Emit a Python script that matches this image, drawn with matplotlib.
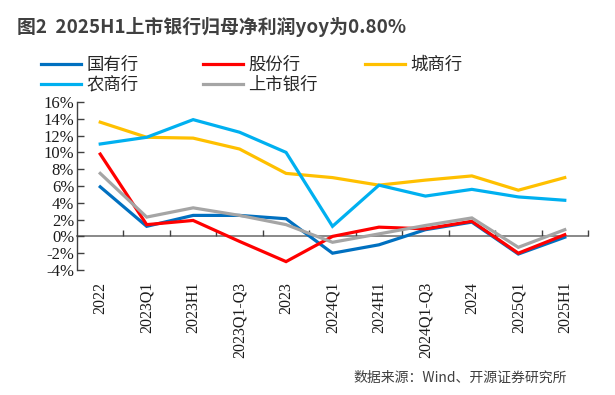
import matplotlib
matplotlib.use("Agg")
import matplotlib.pyplot as plt
from matplotlib.ticker import FixedLocator, FuncFormatter

plt.rcParams['font.family'] = ['Noto Sans CJK SC', 'DejaVu Sans']

periods = ['2022', '2023Q1', '2023H1', '2023Q1-Q3', '2023', '2024Q1',
           '2024H1', '2024Q1-Q3', '2024', '2025Q1', '2025H1']

# 归母净利润同比 (%)
state_owned = [5.9, 1.2, 2.5, 2.5, 2.1, -2.0, -1.0, 0.8, 1.7, -2.1, -0.1]
joint_stock = [9.8, 1.4, 1.9, -0.6, -3.0, 0.0, 1.1, 0.9, 1.8, -2.0, 0.2]
city_comm = [13.6, 11.8, 11.7, 10.4, 7.5, 7.0, 6.1, 6.7, 7.2, 5.5, 7.0]
rural_comm = [11.0, 11.8, 13.9, 12.4, 10.0, 1.2, 6.1, 4.8, 5.6, 4.7, 4.3]
listed_banks = [7.5, 2.3, 3.4, 2.5, 1.4, -0.7, 0.3, 1.3, 2.2, -1.3, 0.8]

series = [
    ('国有行', state_owned, '#0070C0'),
    ('股份行', joint_stock, '#FF0000'),
    ('城商行', city_comm, '#FFC000'),
    ('农商行', rural_comm, '#00B0F0'),
    ('上市银行', listed_banks, '#A5A5A5'),
]

fig = plt.figure(figsize=(6.15, 3.95), dpi=100)
ax = fig.add_axes([77 / 615, 1 - 270 / 395, 511 / 615, 168 / 395])

x = list(range(len(periods)))
lines = {}
for name, vals, color in series:
    lines[name], = ax.plot(x, vals, color=color, lw=2.3, label=name,
                           solid_joinstyle='miter')

ax.set_xlim(-0.5, len(periods) - 0.5)
ax.set_ylim(-4, 16)

# y axis
ax.yaxis.set_major_locator(FixedLocator(range(-4, 17, 2)))
ax.yaxis.set_major_formatter(FuncFormatter(lambda v, p: '{:.0f}%'.format(v)))
ax.tick_params(axis='y', direction='in', length=5, width=1, color='#404040',
               labelsize=12, labelcolor='#1a1a1a', pad=2)
for lab in ax.get_yticklabels():
    lab.set_family('Liberation Serif')
ax.spines['left'].set_color('#404040')
ax.spines['left'].set_linewidth(1.0)

# x axis sits on zero, ticks between categories, labels at bottom
ax.spines['bottom'].set_position(('data', 0))
ax.spines['bottom'].set_color('#7f7f7f')
ax.spines['bottom'].set_linewidth(1.3)
ax.spines['bottom'].set_zorder(1)
ax.xaxis.set_major_locator(FixedLocator([i + 0.5 for i in x]))
ax.tick_params(axis='x', direction='in', length=4, width=1, color='#404040',
               labelbottom=False)
for s in ('top', 'right'):
    ax.spines[s].set_visible(False)

for i, p in enumerate(periods):
    ax.text(i, -0.07, p, transform=ax.get_xaxis_transform(), rotation=90,
            ha='center', va='top', fontsize=11.5, color='#1a1a1a',
            family='Liberation Serif')

# title
fig.text(17 / 615, 1 - 27 / 395, '图2  2025H1上市银行归母净利润yoy为0.80%',
         fontsize=13.6, fontweight='bold', color='#404040', va='center', ha='left')

# legend: three evenly spaced columns
cols = [(['国有行', '农商行'], 41), (['股份行', '上市银行'], 203), (['城商行'], 365)]
for names, px in cols:
    leg = fig.legend([lines[n] for n in names], names, loc='upper left',
                     bbox_to_anchor=(px / 615, 1 - 56 / 395), frameon=False,
                     borderpad=0, borderaxespad=0, handlelength=2.3,
                     handletextpad=0.3, labelspacing=0.1, fontsize=12.5)
    for t in leg.get_texts():
        t.set_color('#262626')

# source
fig.text(567 / 615, 1 - 378 / 395, '数据来源：Wind、开源证券研究所',
         fontsize=10, color='#404040', ha='right', va='center')

fig.savefig('out.png', dpi=100)
